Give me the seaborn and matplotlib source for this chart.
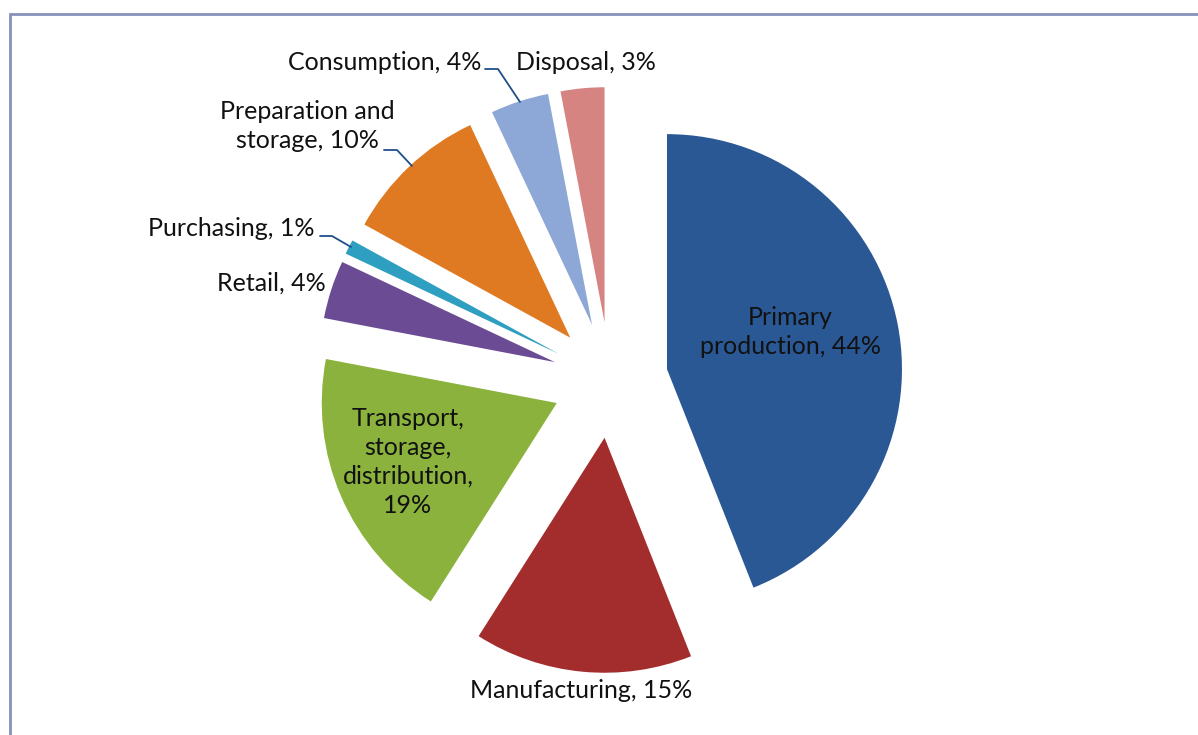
import matplotlib
matplotlib.use("Agg")
import matplotlib.pyplot as plt
import seaborn as sns
from matplotlib.patches import Rectangle

# ---- data ----
categories = ["Primary production", "Manufacturing", "Transport, storage, distribution",
              "Retail", "Purchasing", "Preparation and storage", "Consumption", "Disposal"]
shares = [44, 15, 19, 4, 1, 10, 4, 3]
label_texts = ["Primary\nproduction, 44%", "Manufacturing, 15%",
               "Transport,\nstorage,\ndistribution,\n19%", "Retail, 4%",
               "Purchasing, 1%", "Preparation and\nstorage, 10%",
               "Consumption, 4%", "Disposal, 3%"]
colors = ["#2A5895", "#A32C2C", "#8AB23C", "#6A4B94",
          "#2E9FC0", "#E07A22", "#8DA8D6", "#D68482"]

# ---- layout (pixel coordinates, y measured from top) ----
W, H = 1198, 735
CX, CY = 610, 380
RADIUS = 235
EXPLODE = 58

label_pos = [(790, 332, "center"), (581, 691, "center"), (408, 462, "center"),
             (326, 283, "right"), (314, 228, "right"), (307, 126, "center"),
             (481, 62, "right"), (516, 62, "left")]
leaders = {
    4: [(320, 236), (332, 236), (351, 247)],
    5: [(384, 150), (397, 150), (412, 166)],
    6: [(485, 69), (498, 69), (520, 102)],
}

sns.set_theme(style="white")
plt.rcParams['font.family'] = ['Lato', 'DejaVu Sans']

fig = plt.figure(figsize=(W / 100, H / 100), dpi=100)
ax = fig.add_axes([0, 0, 1, 1])
sns.set_palette(colors)

ax.pie(shares, colors=sns.color_palette(colors), startangle=90, counterclock=False,
       radius=RADIUS, center=(CX, H - CY), explode=[EXPLODE] * len(shares),
       wedgeprops=dict(linewidth=0))

for txt, (x, y, ha) in zip(label_texts, label_pos):
    ax.text(x, H - y, txt, ha=ha, va="center", fontsize=18, color="#111111",
            linespacing=1.3)

for idx, pts in leaders.items():
    xs = [p[0] for p in pts]
    ys = [H - p[1] for p in pts]
    ax.plot(xs, ys, color="#1F4E8C", lw=1.3)

ax.set_xlim(0, W)
ax.set_ylim(0, H)
ax.set_axis_off()

# outer border (cropped at right and bottom)
fig.patches.append(Rectangle((10 / W, -0.1), 1.2, (H - 14) / H + 0.1,
                             transform=fig.transFigure, fill=False,
                             edgecolor="#8791BA", lw=2.0))

fig.savefig("out.png", dpi=100)
